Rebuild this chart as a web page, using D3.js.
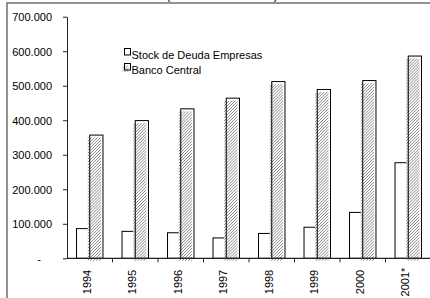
<!DOCTYPE html>
<html>
<head>
<meta charset="UTF-8">
<title>Stock de Deuda</title>
<style>
    body { margin: 0; background: #ffffff; }
    svg { display: block; font-family: 'Liberation Sans', Arial, sans-serif; font-size: 11px; }
    .axis path, .axis line { stroke: #222; }
    .axis text { fill: #000; font-size: 11px; }
</style>
</head>
<body>
<script src="https://d3js.org/d3.v7.min.js"></script>
<script>
    // data (thousands)
    const years = ['1994', '1995', '1996', '1997', '1998', '1999', '2000', '2001*'];
    const seriesNames = ['Stock de Deuda Empresas', 'Banco Central'];
    const empresas = [86000, 78000, 74000, 59000, 72000, 90000, 133000, 277000];
    const bancoCentral = [357000, 399000, 433000, 464000, 512000, 489000, 515000, 586000];
    const yTicks = [0, 100000, 200000, 300000, 400000, 500000, 600000, 700000];

    const W = 430, H = 298;
    const svg = d3.select('body').append('svg')
        .attr('width', W)
        .attr('height', H);

    // hatch pattern for Banco Central
    const defs = svg.append('defs');
    const pat = defs.append('pattern')
        .attr('id', 'hatch')
        .attr('patternUnits', 'userSpaceOnUse')
        .attr('width', 2.1)
        .attr('height', 2.1)
        .attr('patternTransform', 'rotate(45)');
    pat.append('rect').attr('width', 2.1).attr('height', 2.1).attr('fill', '#fff');
    pat.append('line')
        .attr('x1', 0).attr('y1', 0).attr('x2', 0).attr('y2', 2.1)
        .attr('stroke', '#555').attr('stroke-width', 1);

    // outer frame (top and left edges visible)
    svg.append('path')
        .attr('d', `M7,${H} V3 H${W}`)
        .attr('fill', 'none')
        .attr('stroke', '#707070')
        .attr('stroke-width', 1.5);

    // title, mostly above the window
    svg.append('text')
        .attr('x', 222)
        .attr('y', -1.5)
        .attr('text-anchor', 'middle')
        .style('font-size', '12px')
        .text('(millones de dólares)');

    const x0 = 67, x1 = 431, yTop = 16.7, yZero = 258.3;

    const x = d3.scaleBand().domain(years).range([x0, x1]).padding(0);
    const xs = d3.scaleBand().domain(seriesNames).range([0, x.bandwidth()]).paddingInner(0).paddingOuter(0.72);
    const y = d3.scaleLinear().domain([0, 700000]).range([yZero, yTop]);

    const fmt = d => d === 0 ? '-' : d3.format(',')(d).replace(/,/g, '.');

    // y axis
    const yAxisG = svg.append('g')
        .attr('class', 'axis')
        .attr('transform', `translate(${x0},0)`)
        .call(d3.axisLeft(y).tickValues(yTicks).tickSize(4).tickPadding(11).tickSizeOuter(0).tickFormat(fmt));
    yAxisG.selectAll('.tick text').attr('dy', '0.72em').attr('y', -4);
    yAxisG.selectAll('.tick text').filter(d => d === 0).attr('x', -26);

    const g = svg.append('g');

    // Stock de Deuda Empresas bars (white)
    g.selectAll('.emp')
        .data(empresas)
        .join('rect')
        .attr('class', 'emp')
        .attr('x', (d, i) => x(years[i]) + xs(seriesNames[0]))
        .attr('y', d => y(d))
        .attr('width', xs.bandwidth())
        .attr('height', d => yZero - y(d))
        .attr('fill', '#fff')
        .attr('stroke', '#000')
        .attr('stroke-width', 1);

    // Banco Central: hatched fill shifted down-left, then outline
    g.selectAll('.bc-fill')
        .data(bancoCentral)
        .join('rect')
        .attr('class', 'bc-fill')
        .attr('x', (d, i) => x(years[i]) + xs(seriesNames[1]) - 2)
        .attr('y', d => y(d) + 2.5)
        .attr('width', xs.bandwidth())
        .attr('height', d => yZero - y(d))
        .attr('fill', 'url(#hatch)');

    g.selectAll('.bc-line')
        .data(bancoCentral)
        .join('rect')
        .attr('class', 'bc-line')
        .attr('x', (d, i) => x(years[i]) + xs(seriesNames[1]))
        .attr('y', d => y(d))
        .attr('width', xs.bandwidth())
        .attr('height', d => yZero - y(d))
        .attr('fill', 'none')
        .attr('stroke', '#000')
        .attr('stroke-width', 1);

    // x axis line with boundary ticks
    const xAxisG = svg.append('g')
        .attr('class', 'axis')
        .attr('transform', `translate(0,${yZero})`);
    xAxisG.append('line')
        .attr('x1', x0).attr('x2', x1)
        .attr('stroke-width', 1.2);
    xAxisG.selectAll('.bt')
        .data(years.slice(1))
        .join('line')
        .attr('class', 'bt')
        .attr('x1', d => x(d)).attr('x2', d => x(d))
        .attr('y1', 0).attr('y2', 4);

    // category labels, rotated
    svg.selectAll('.xlab')
        .data(years)
        .join('text')
        .attr('class', 'xlab')
        .attr('transform', d => `translate(${x(d) + x.bandwidth() / 2 + 1},282) rotate(-90)`)
        .attr('text-anchor', 'middle')
        .style('font-size', '11px')
        .text(d => d);

    // legend
    const lg = svg.append('g').attr('class', 'legend');
    lg.append('rect')
        .attr('x', 124.5).attr('y', 48.5).attr('width', 6).attr('height', 6.5)
        .attr('fill', '#fff').attr('stroke', '#000');
    lg.append('text').attr('x', 131.5).attr('y', 59.3).text(seriesNames[0]);
    lg.append('rect')
        .attr('x', 122.5).attr('y', 65.5).attr('width', 6).attr('height', 6.5)
        .attr('fill', 'url(#hatch)');
    lg.append('rect')
        .attr('x', 124.5).attr('y', 63.5).attr('width', 6).attr('height', 6.5)
        .attr('fill', 'none').attr('stroke', '#000');
    lg.append('text').attr('x', 131.5).attr('y', 74).text(seriesNames[1]);
</script>
</body>
</html>
